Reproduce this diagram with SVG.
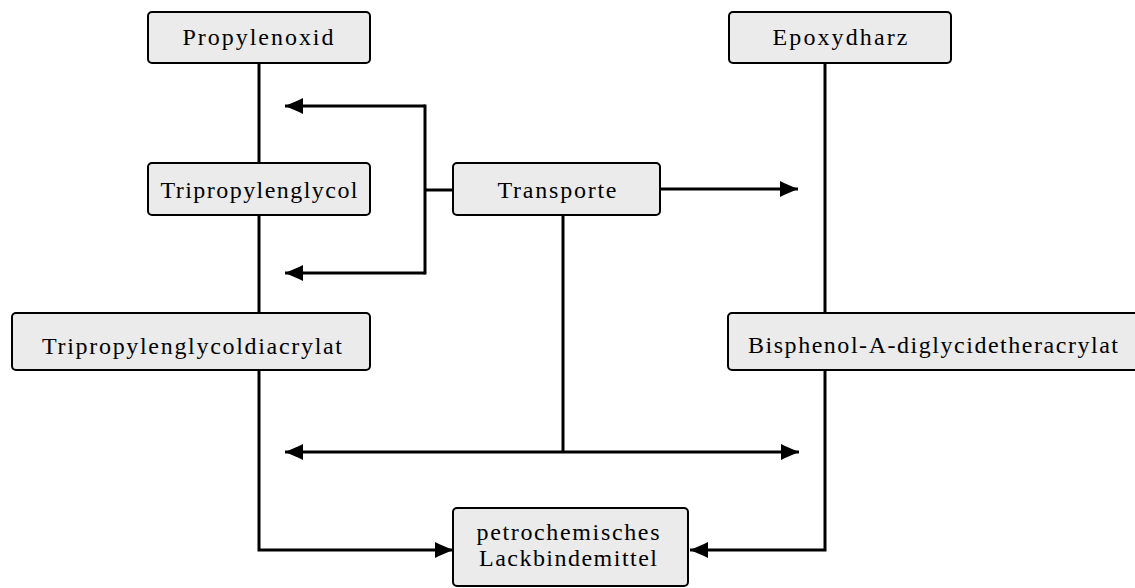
<svg xmlns="http://www.w3.org/2000/svg" width="1135" height="588" viewBox="0 0 1135 588">
<style>
.box{fill:#ebebeb;stroke:#000;stroke-width:2}
.lbl{font-family:"Liberation Serif","Times New Roman",serif;font-size:24px;fill:#000;text-anchor:middle}
.ln{fill:none;stroke:#000;stroke-width:3}
</style>
<defs>
<marker id="ah" viewBox="0 0 18 16" refX="18" refY="8" markerWidth="18" markerHeight="16" markerUnits="userSpaceOnUse" orient="auto-start-reverse">
<path d="M0,0 L4,2 L18,8 L4,14 L0,16 z" fill="#000"/>
</marker>
</defs>
<rect width="1135" height="588" fill="#fff"/>
<g id="connectors">
<line class="ln" x1="259" y1="63" x2="259" y2="313"/>
<line class="ln" x1="825" y1="63" x2="825" y2="313"/>
<path class="ln" d="M425,106 L285,106" marker-end="url(#ah)"/>
<path class="ln" d="M425,273 L285,273" marker-end="url(#ah)"/>
<path class="ln" d="M425,104.5 L425,274.5"/>
<path class="ln" d="M425,190 L453,190"/>
<path class="ln" d="M660,189 L798,189" marker-end="url(#ah)"/>
<path class="ln" d="M563,215 L563,452"/>
<path class="ln" d="M285,452 L799,452" marker-start="url(#ah)" marker-end="url(#ah)"/>
<path class="ln" d="M259,370 L259,550 L453,550" marker-end="url(#ah)"/>
<path class="ln" d="M825,370 L825,550 L690,550" marker-end="url(#ah)"/>
</g>
<g id="propylenoxid">
<rect class="box" x="148" y="12" width="222" height="51" rx="4"/>
<text class="lbl" x="258" y="45" textLength="151" lengthAdjust="spacing">Propylenoxid</text>
</g>
<g id="tripropylenglycol">
<rect class="box" x="148" y="163" width="222" height="52" rx="4"/>
<text class="lbl" x="259" y="198" textLength="197" lengthAdjust="spacing">Tripropylenglycol</text>
</g>
<g id="tripropylenglycoldiacrylat">
<rect class="box" x="12" y="313" width="358" height="57" rx="4"/>
<text class="lbl" x="192" y="354" textLength="300" lengthAdjust="spacing">Tripropylenglycoldiacrylat</text>
</g>
<g id="transporte">
<rect class="box" x="453" y="163" width="207" height="52" rx="4"/>
<text class="lbl" x="557" y="198" textLength="119" lengthAdjust="spacing">Transporte</text>
</g>
<g id="epoxydharz">
<rect class="box" x="729" y="12" width="222" height="51" rx="4"/>
<text class="lbl" x="840" y="45" textLength="135" lengthAdjust="spacing">Epoxydharz</text>
</g>
<g id="bisphenol">
<rect class="box" x="728" y="313" width="420" height="57" rx="4"/>
<text class="lbl" x="933" y="353" textLength="370" lengthAdjust="spacing">Bisphenol-A-diglycidetheracrylat</text>
</g>
<g id="lackbindemittel">
<rect class="box" x="453" y="508" width="235" height="78" rx="4"/>
<text class="lbl" x="568" y="540" textLength="183" lengthAdjust="spacing">petrochemisches</text>
<text class="lbl" x="568" y="566" textLength="178" lengthAdjust="spacing">Lackbindemittel</text>
</g>
</svg>
